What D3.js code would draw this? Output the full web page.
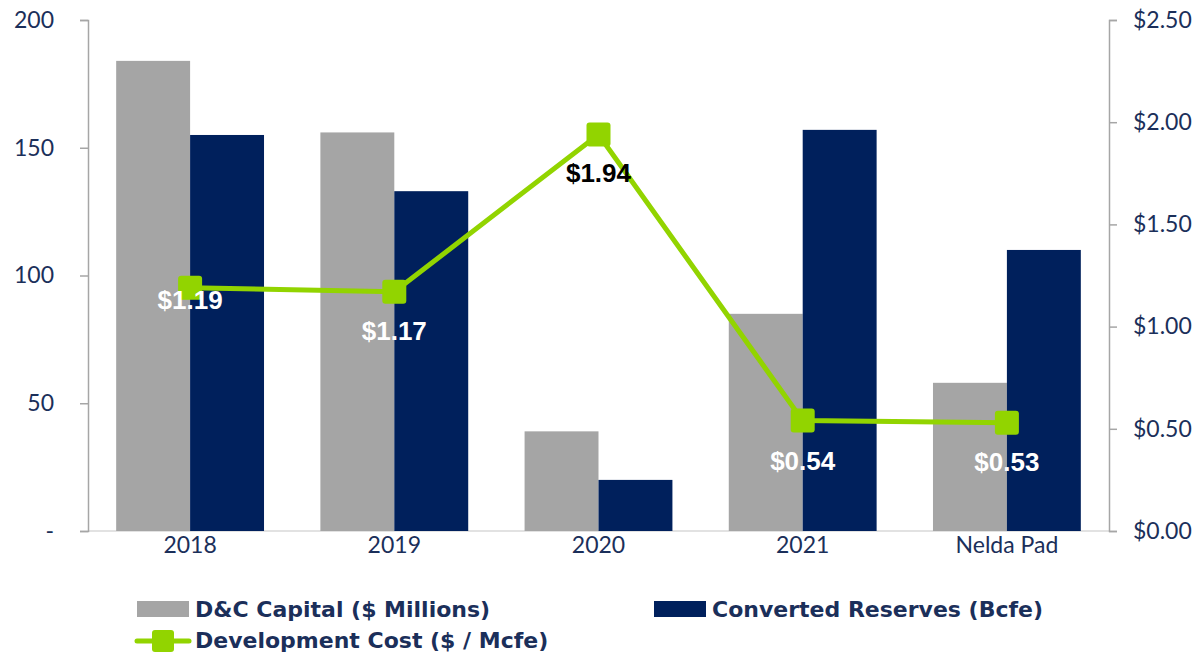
<!DOCTYPE html>
<html>
<head>
<meta charset="utf-8">
<script src="https://cdn.jsdelivr.net/npm/d3@7"></script>
<style>
  body { margin: 0; background: #fff; }
  text { font-family: Lato, "Open Sans", sans-serif; }
</style>
</head>
<body>
<div id="chart"></div>
<script>
// data
const categories = ["2018", "2019", "2020", "2021", "Nelda Pad"];
const capital = [184, 156, 39, 85, 58];        // D&C Capital ($ Millions)
const reserves = [155, 133, 20, 157, 110];     // Converted Reserves (Bcfe)
const devCost = [1.19, 1.17, 1.94, 0.54, 0.53]; // Development Cost ($ / Mcfe)
const leftTicks = [0, 50, 100, 150, 200];
const rightTicks = [0, 0.5, 1, 1.5, 2, 2.5];

const navy = "#1b2f5a";
const barNavy = "#00205c";
const gray = "#a5a5a5";
const green = "#92d400";

const margin = {top: 20, right: 92, bottom: 125, left: 88};
const width = 1201, height = 656;
const visWidth = width - margin.left - margin.right;
const visHeight = height - margin.top - margin.bottom;

const svg = d3.select("#chart").append("svg")
  .attr("width", width)
  .attr("height", height);

const g = svg.append("g")
  .attr("transform", `translate(${margin.left},${margin.top})`);

const x = d3.scaleBand()
  .domain(categories)
  .range([0, visWidth])
  .paddingInner(0.276)
  .paddingOuter(0.138);

const sub = d3.scaleBand()
  .domain(["capital", "reserves"])
  .range([0, x.bandwidth()]);

const y = d3.scaleLinear().domain([0, 200]).range([visHeight, 0]);
const y2 = d3.scaleLinear().domain([0, 2.5]).range([visHeight, 0]);

// baseline
g.append("line")
  .attr("x1", 0).attr("x2", visWidth)
  .attr("y1", visHeight).attr("y2", visHeight)
  .attr("stroke", "#d9d9d9").attr("stroke-width", 1.5);

// bars
const groups = g.selectAll(".grp")
  .data(categories.map((c, i) => ({c, capital: capital[i], reserves: reserves[i]})))
  .enter().append("g")
  .attr("transform", d => `translate(${x(d.c)},0)`);

groups.append("rect")
  .attr("x", sub("capital"))
  .attr("y", d => y(d.capital))
  .attr("width", sub.bandwidth())
  .attr("height", d => visHeight - y(d.capital))
  .attr("fill", gray);

groups.append("rect")
  .attr("x", sub("reserves"))
  .attr("y", d => y(d.reserves))
  .attr("width", sub.bandwidth())
  .attr("height", d => visHeight - y(d.reserves))
  .attr("fill", barNavy);

// left axis
const la = g.append("g")
  .call(d3.axisLeft(y).tickValues(leftTicks).tickSize(8).tickPadding(26)
    .tickFormat(d => d === 0 ? "-" : d));
la.select(".domain").attr("stroke", "#a6a6a6").attr("stroke-width", 1.5);
la.selectAll(".tick line").attr("stroke", "#a6a6a6").attr("stroke-width", 1.5);
la.selectAll(".tick text").attr("fill", navy).style("font-size", "23px");

// right axis
const ra = g.append("g")
  .attr("transform", `translate(${visWidth},0)`)
  .call(d3.axisRight(y2).tickValues(rightTicks).tickSize(8).tickPadding(16)
    .tickFormat(d3.format("$.2f")));
ra.select(".domain").attr("stroke", "#a6a6a6").attr("stroke-width", 1.5);
ra.selectAll(".tick line").attr("stroke", "#a6a6a6").attr("stroke-width", 1.5);
ra.selectAll(".tick text").attr("fill", navy).style("font-size", "23px");

// x labels
g.append("g")
  .selectAll("text")
  .data(categories)
  .enter().append("text")
  .attr("x", d => x(d) + x.bandwidth() / 2)
  .attr("y", visHeight + 22)
  .attr("text-anchor", "middle")
  .attr("fill", navy)
  .style("font-size", "23px")
  .text(d => d);

// development cost line
const cx = d => x(d.c) + x.bandwidth() / 2;
const pts = categories.map((c, i) => ({c, v: devCost[i]}));

g.append("path")
  .datum(pts)
  .attr("fill", "none")
  .attr("stroke", green)
  .attr("stroke-width", 5)
  .attr("d", d3.line().x(cx).y(d => y2(d.v)));

g.selectAll(".mk")
  .data(pts)
  .enter().append("rect")
  .attr("x", d => cx(d) - 12)
  .attr("y", d => y2(d.v) - 12)
  .attr("width", 24).attr("height", 24)
  .attr("rx", 3)
  .attr("fill", green);

// data labels
const labelDy = [21, 48, 48, 49, 48];
const labelColor = ["#fff", "#fff", "#000", "#fff", "#fff"];
g.selectAll(".lbl")
  .data(pts)
  .enter().append("text")
  .attr("x", cx)
  .attr("y", (d, i) => y2(d.v) + labelDy[i])
  .attr("text-anchor", "middle")
  .attr("fill", (d, i) => labelColor[i])
  .style("font-family", "'Liberation Sans', Arial, sans-serif")
  .style("font-weight", "bold")
  .style("font-size", "26px")
  .text(d => d3.format("$.2f")(d.v));

// legend
const legFont = "'DejaVu Sans', sans-serif";
const leg = svg.append("g");
leg.append("rect").attr("x", 137).attr("y", 601).attr("width", 52).attr("height", 16).attr("fill", gray);
leg.append("text").attr("x", 195).attr("y", 617).text("D&C Capital ($ Millions)")
  .attr("fill", navy).style("font-family", legFont).style("font-size", "22px").style("font-weight", "bold");
leg.append("rect").attr("x", 654).attr("y", 601).attr("width", 52).attr("height", 16).attr("fill", barNavy);
leg.append("text").attr("x", 712).attr("y", 617).text("Converted Reserves (Bcfe)")
  .attr("fill", navy).style("font-family", legFont).style("font-size", "22px").style("font-weight", "bold");
leg.append("line").attr("x1", 137).attr("x2", 189).attr("y1", 641).attr("y2", 641)
  .attr("stroke", green).attr("stroke-width", 5).attr("stroke-linecap", "round");
leg.append("rect").attr("x", 152).attr("y", 630).attr("width", 22).attr("height", 22).attr("rx", 3).attr("fill", green);
leg.append("text").attr("x", 195).attr("y", 648).text("Development Cost ($ / Mcfe)")
  .attr("fill", navy).style("font-family", legFont).style("font-size", "22px").style("font-weight", "bold");
</script>
</body>
</html>
